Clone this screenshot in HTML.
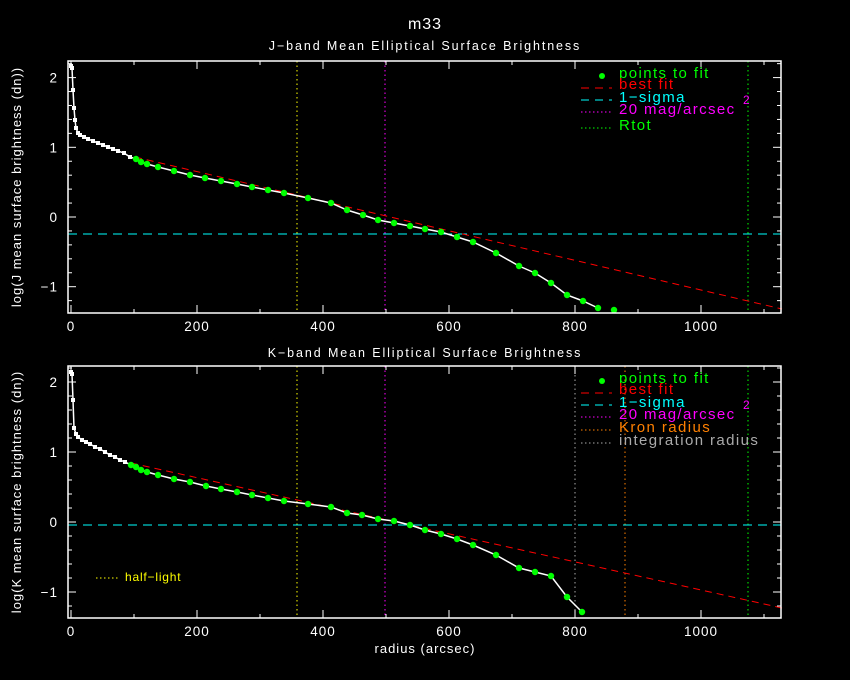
<!DOCTYPE html>
<html><head><meta charset="utf-8"><style>
html,body{margin:0;padding:0;background:#000;}
svg{display:block;}
text{font-family:"Liberation Sans",sans-serif;}
</style></head><body>
<svg id="s" width="850" height="680" xmlns="http://www.w3.org/2000/svg" style="background:#000">
<text x="425" y="29" fill="#fff" font-size="16" text-anchor="middle" letter-spacing="1">m33</text>
<text x="425" y="50" fill="#fff" font-size="12.5" text-anchor="middle" letter-spacing="1.9">J−band Mean Elliptical Surface Brightness</text>
<text x="425" y="357" fill="#fff" font-size="12.5" text-anchor="middle" letter-spacing="1.9">K−band Mean Elliptical Surface Brightness</text>
<text x="425" y="653" fill="#fff" font-size="13" text-anchor="middle" letter-spacing="1">radius (arcsec)</text>
<text transform="translate(21,187) rotate(-90)" fill="#fff" font-size="13" text-anchor="middle" letter-spacing="1">log(J mean surface brightness (dn))</text>
<text transform="translate(21,492) rotate(-90)" fill="#fff" font-size="13" text-anchor="middle" letter-spacing="1">log(K mean surface brightness (dn))</text>
<g id="g"></g>
<g font-size="15" letter-spacing="1.4">
<circle cx="602" cy="76" r="3" fill="#0f0"/>
<text x="619" y="78" fill="#0f0">points to fit</text>
<line x1="581" y1="88" x2="612" y2="88" stroke="#f00" stroke-dasharray="8,6"/>
<text x="619" y="89" fill="#f00">best fit</text>
<line x1="581" y1="100" x2="612" y2="100" stroke="#0ff" stroke-dasharray="8,6"/>
<text x="619" y="102" fill="#0ff">1−sigma</text>
<line x1="581" y1="112" x2="612" y2="112" stroke="#f0f" stroke-dasharray="1.5,2.5"/>
<text x="619" y="114" fill="#f0f">20 mag/arcsec</text><text x="743" y="104" fill="#f0f" font-size="12">2</text>
<line x1="581" y1="128" x2="612" y2="128" stroke="#0f0" stroke-dasharray="1.5,2.5"/>
<text x="619" y="130" fill="#0f0">Rtot</text>

<circle cx="602" cy="381" r="3" fill="#0f0"/>
<text x="619" y="383" fill="#0f0">points to fit</text>
<line x1="581" y1="393" x2="612" y2="393" stroke="#f00" stroke-dasharray="8,6"/>
<text x="619" y="394" fill="#f00">best fit</text>
<line x1="581" y1="405" x2="612" y2="405" stroke="#0ff" stroke-dasharray="8,6"/>
<text x="619" y="407" fill="#0ff">1−sigma</text>
<line x1="581" y1="417" x2="612" y2="417" stroke="#f0f" stroke-dasharray="1.5,2.5"/>
<text x="619" y="419" fill="#f0f">20 mag/arcsec</text><text x="743" y="409" fill="#f0f" font-size="12">2</text>
<line x1="581" y1="430" x2="612" y2="430" stroke="#ff8000" stroke-dasharray="1.5,2.5"/>
<text x="619" y="432" fill="#ff8000">Kron radius</text>
<line x1="581" y1="443" x2="612" y2="443" stroke="#aaa" stroke-dasharray="1.5,2.5"/>
<text x="619" y="445" fill="#aaa">integration radius</text>
<line x1="96" y1="578" x2="118" y2="578" stroke="#ff0" stroke-dasharray="1.5,2.5"/>
<text x="125" y="581" fill="#ff0" font-size="12" letter-spacing="0.8">half−light</text>
</g>
</svg>
<script>
var NS="http://www.w3.org/2000/svg",g=document.getElementById("g");
function el(t,a){var e=document.createElementNS(NS,t);for(var k in a)e.setAttribute(k,a[k]);g.appendChild(e);return e;}
function txt(x,y,s,anchor){var e=el("text",{x:x,y:y,fill:"#fff","font-size":13.5,"text-anchor":anchor||"middle","letter-spacing":1});e.textContent=s;}
function X(r){return 71+0.63*r;}
function panel(top,bot,y0,sc,opts){
 var L=68,R=781;
 opts.vl.forEach(function(v){el("line",{x1:v[0],y1:top,x2:v[0],y2:bot,stroke:v[1],"stroke-dasharray":"1.5,3"});});
 el("line",{x1:L,y1:opts.cy,x2:R,y2:opts.cy,stroke:"#0ff","stroke-dasharray":"9,6"});
 el("line",{x1:opts.red[0],y1:opts.red[1],x2:opts.red[2],y2:opts.red[3],stroke:"#f00","stroke-dasharray":"7,5"});
 var p=opts.pts.map(function(q){return q.join(",");}).join(" ");
 el("polyline",{points:p,fill:"none",stroke:"#fff","stroke-width":1.5});
 opts.pts.forEach(function(q,i){ if(i<opts.ng) el("rect",{x:q[0]-2,y:q[1]-2,width:4,height:4,fill:"#fff"});});
 opts.green.forEach(function(q){el("circle",{cx:q[0],cy:q[1],r:3.2,fill:"#0f0"});});
 el("rect",{x:L,y:top,width:R-L,height:bot-top,fill:"none",stroke:"#fff","stroke-width":1.5});
 for(var r=0;r<=1100;r+=100){var x=X(r),len=(r%200==0)?8:4;
  el("line",{x1:x,y1:bot,x2:x,y2:bot-len,stroke:"#fff"});el("line",{x1:x,y1:top,x2:x,y2:top+len,stroke:"#fff"});
  if(r%200==0)txt(x,bot+18,String(r));}
 for(var k=-7;k<=11;k++){var v=k*0.2,y=y0-sc*v;if(y<top||y>bot)continue;var maj=(k%5==0),len=maj?8:4;
  el("line",{x1:L,y1:y,x2:L+len,y2:y,stroke:"#fff"});el("line",{x1:R,y1:y,x2:R-len,y2:y,stroke:"#fff"});
  if(maj)txt(58,y+5,k==-5?"−1":String(k/5),"end");}
}
var topPts=[[71,66],[72,68],[73,90],[74,108],[75,120],[76,128],[78,133],[80,135],[84,137],[88,139],[93,141],[98,143],[103,145],[108,147],[113,149],[118,151],[124,153],[130,157],
[136,159],[141,162],[147,164],[158,167],[174,171],[190,175],[205,178],[221,181],[237,184],[252,187],[268,190],[284,193],[308,198],[331,203],[347,210],[363,215],[378,220],[394,223],[410,226],[425,229],[441,232],[457,237],[473,242],[496,253],[519,266],[535,273],[551,283],[567,295],[583,301],[598,308]];
panel(61,313,217,69.7,{vl:[[297,"#ff0"],[385,"#f0f"],[748,"#0f0"]],cy:234,red:[135,157,782,309],
 pts:topPts,ng:18,green:topPts.slice(18).concat([[614,310]])});
var botPts=[[71,372],[72,374],[73,400],[74,428],[76,434],[78,437],[82,440],[86,442],[90,444],[95,447],[100,449],[105,452],[110,455],[115,457],[120,460],[125,462],
[131,465],[136,467],[141,470],[147,472],[158,475],[174,479],[190,482],[206,486],[221,489],[237,492],[252,495],[268,498],[284,501],[308,504],[331,507],[347,513],[362,515],[378,519],[394,521],[410,525],[425,530],[441,534],[457,539],[473,545],[496,555],[519,568],[535,572],[551,576],[567,597],[582,612]];
panel(366,618,522,70,{vl:[[297,"#ff0"],[385,"#f0f"],[575,"#aaa"],[625,"#ff8000"],[748,"#0f0"]],cy:525,red:[131,463,782,608],
 pts:botPts,ng:16,green:botPts.slice(16)});
</script>
</body></html>
